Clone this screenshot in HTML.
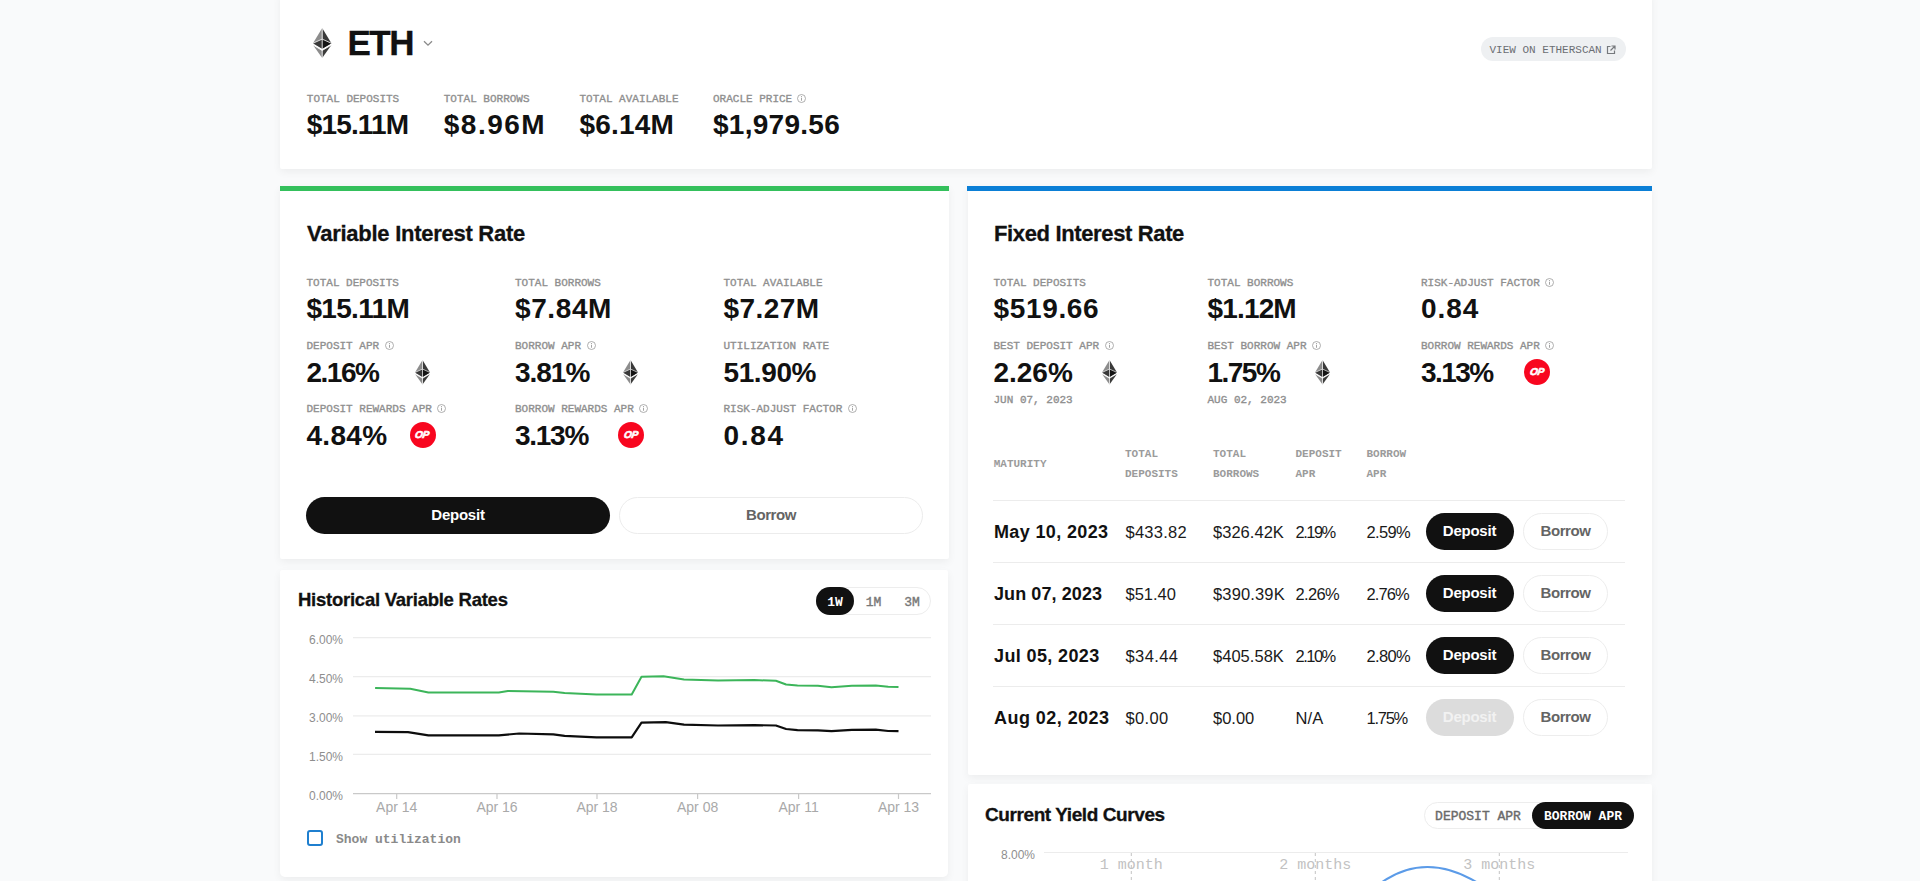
<!DOCTYPE html><html><head><meta charset="utf-8"><style>
html,body{margin:0;padding:0}
body{width:1920px;height:881px;overflow:hidden;position:relative;background:#f9fafb;font-family:'Liberation Sans',sans-serif}
.t{position:absolute;white-space:nowrap}
.lb{-webkit-text-stroke:0.3px}
.b{position:absolute;box-sizing:border-box}
.card{position:absolute;background:#fff;box-shadow:0 3px 9px rgba(0,0,0,0.055)}
.op{background:#f8061f;border-radius:50%;display:flex;align-items:center;justify-content:center}
.op span{color:#fff;font:italic bold 10px/1 'Liberation Sans',sans-serif;letter-spacing:-0.2px;-webkit-text-stroke:0.6px #fff;margin-top:0px;display:inline-block;transform:skewX(-10deg)}
</style></head><body>
<div class="card" style="left:280px;top:-8px;width:1372px;height:177px;border-radius:0 0 2px 2px"></div>
<div class="card" style="left:280px;top:186px;width:669px;height:373px;border-radius:0 0 2px 2px"></div>
<div class="b" style="left:280px;top:186px;width:669px;height:5px;background:#34c05c"></div>
<div class="card" style="left:280px;top:570px;width:668px;height:307px;border-radius:2px 2px 5px 5px"></div>
<div class="card" style="left:968px;top:186px;width:684px;height:589px;border-radius:0 0 2px 2px"></div>
<div class="b" style="left:967px;top:186px;width:685px;height:5px;background:#0b7fd6"></div>
<div class="card" style="left:968px;top:784px;width:684px;height:120px;border-radius:2px"></div>
<svg class="b" style="left:313.29px;top:28.00px;width:18.42px;height:30.00px" viewBox="0 0 784.37 1277.39">
<polygon fill="#3a3a3a" points="392.07,0 392.07,882.29 784.13,650.54"/>
<polygon fill="#8C8C8C" points="392.07,0 0,650.54 392.07,882.29"/>
<polygon fill="#3C3C3B" points="392.07,956.52 392.07,1277.38 784.37,724.89"/>
<polygon fill="#8C8C8C" points="392.07,1277.38 392.07,956.52 0,724.89"/>
<polygon fill="#141414" points="392.07,882.29 784.13,650.54 392.07,472.33"/>
<polygon fill="#393939" points="0,650.54 392.07,882.29 392.07,472.33"/>
<g stroke="#fff" stroke-width="34" fill="none"><line x1="392.07" y1="0" x2="392.07" y2="1277.39"/><polyline points="0,650.54 392.07,472.33 784.13,650.54"/><polyline points="0,724.89 392.07,956.52 784.37,724.89"/></g>
</svg>
<div class="t" id="k1" style="left:347.50px;top:25.37px;font-size:35px;line-height:35px;font-family:'Liberation Sans', sans-serif;font-weight:700;color:#111;letter-spacing:-1.5px;-webkit-text-stroke:0.3px #111;">ETH</div>
<svg class="b" style="left:423px;top:40px;width:10px;height:7px" viewBox="0 0 10 7"><polyline points="1,1.2 5,5.2 9,1.2" fill="none" stroke="#8a8a8a" stroke-width="1.3"/></svg>
<div class="t" style="left:306.80px;top:93.57px;font-size:11px;line-height:11px;font-family:'Liberation Mono', monospace;font-weight:400;color:#8f8f8f;-webkit-text-stroke:0.35px #8f8f8f;">TOTAL DEPOSITS</div>
<div class="t" id="k2" style="left:306.80px;top:111.30px;font-size:28px;line-height:28px;font-family:'Liberation Sans', sans-serif;font-weight:700;color:#111;letter-spacing:-0.867px;">$15.11M</div>
<div class="t" style="left:443.75px;top:93.57px;font-size:11px;line-height:11px;font-family:'Liberation Mono', monospace;font-weight:400;color:#8f8f8f;-webkit-text-stroke:0.35px #8f8f8f;">TOTAL BORROWS</div>
<div class="t" id="k3" style="left:443.75px;top:111.30px;font-size:28px;line-height:28px;font-family:'Liberation Sans', sans-serif;font-weight:700;color:#111;letter-spacing:1.5px;">$8.96M</div>
<div class="t" style="left:579.50px;top:93.57px;font-size:11px;line-height:11px;font-family:'Liberation Mono', monospace;font-weight:400;color:#8f8f8f;-webkit-text-stroke:0.35px #8f8f8f;">TOTAL AVAILABLE</div>
<div class="t" id="k4" style="left:579.50px;top:111.30px;font-size:28px;line-height:28px;font-family:'Liberation Sans', sans-serif;font-weight:700;color:#111;letter-spacing:0.2px;">$6.14M</div>
<div class="t" style="left:713.00px;top:93.57px;font-size:11px;line-height:11px;font-family:'Liberation Mono', monospace;font-weight:400;color:#8f8f8f;-webkit-text-stroke:0.35px #8f8f8f;">ORACLE PRICE</div>
<div class="t" id="k5" style="left:713.00px;top:111.30px;font-size:28px;line-height:28px;font-family:'Liberation Sans', sans-serif;font-weight:700;color:#111;letter-spacing:0.275px;">$1,979.56</div>
<svg class="b" style="left:797px;top:94px;width:9px;height:9px" viewBox="0 0 18 18"><circle cx="9" cy="9" r="8" fill="none" stroke="#9a9a9a" stroke-width="1.6"/><rect x="8.1" y="7.5" width="1.8" height="6" fill="#9a9a9a"/><circle cx="9" cy="5" r="1.1" fill="#9a9a9a"/></svg>
<div class="b" style="left:1481px;top:37px;width:145px;height:24px;background:#eef0f2;border-radius:12px"></div>
<div class="t" style="left:1489.50px;top:44.57px;font-size:11px;line-height:11px;font-family:'Liberation Mono', monospace;font-weight:400;color:#6b6e72;">VIEW ON ETHERSCAN</div>
<svg class="b" style="left:1606px;top:44.5px;width:10px;height:10px" viewBox="0 0 10 10"><path d="M4.5 1.5H1.5V8.5H8.5V5.5" fill="none" stroke="#76797d" stroke-width="1.2"/><path d="M5.5 1H9V4.5M9 1L4.5 5.5" fill="none" stroke="#76797d" stroke-width="1.2"/></svg>
<div class="t" id="k6" style="left:307.00px;top:223.38px;font-size:22px;line-height:22px;font-family:'Liberation Sans', sans-serif;font-weight:700;color:#111;letter-spacing:-0.262px;-webkit-text-stroke:0.3px #111;">Variable Interest Rate</div>
<div class="t" style="left:306.50px;top:277.57px;font-size:11px;line-height:11px;font-family:'Liberation Mono', monospace;font-weight:400;color:#8f8f8f;-webkit-text-stroke:0.35px #8f8f8f;">TOTAL DEPOSITS</div>
<div class="t" id="k7" style="left:306.50px;top:295.00px;font-size:28px;line-height:28px;font-family:'Liberation Sans', sans-serif;font-weight:700;color:#111;letter-spacing:-0.7px;">$15.11M</div>
<div class="t" style="left:515.00px;top:277.57px;font-size:11px;line-height:11px;font-family:'Liberation Mono', monospace;font-weight:400;color:#8f8f8f;-webkit-text-stroke:0.35px #8f8f8f;">TOTAL BORROWS</div>
<div class="t" id="k8" style="left:515.00px;top:295.00px;font-size:28px;line-height:28px;font-family:'Liberation Sans', sans-serif;font-weight:700;color:#111;letter-spacing:0.6px;">$7.84M</div>
<div class="t" style="left:723.50px;top:277.57px;font-size:11px;line-height:11px;font-family:'Liberation Mono', monospace;font-weight:400;color:#8f8f8f;-webkit-text-stroke:0.35px #8f8f8f;">TOTAL AVAILABLE</div>
<div class="t" id="k9" style="left:723.50px;top:295.00px;font-size:28px;line-height:28px;font-family:'Liberation Sans', sans-serif;font-weight:700;color:#111;letter-spacing:0.44px;">$7.27M</div>
<div class="t" style="left:306.50px;top:340.57px;font-size:11px;line-height:11px;font-family:'Liberation Mono', monospace;font-weight:400;color:#8f8f8f;-webkit-text-stroke:0.35px #8f8f8f;">DEPOSIT APR</div>
<svg class="b" style="left:384.6px;top:341px;width:9px;height:9px" viewBox="0 0 18 18"><circle cx="9" cy="9" r="8" fill="none" stroke="#9a9a9a" stroke-width="1.6"/><rect x="8.1" y="7.5" width="1.8" height="6" fill="#9a9a9a"/><circle cx="9" cy="5" r="1.1" fill="#9a9a9a"/></svg>
<div class="t" id="k10" style="left:306.50px;top:358.50px;font-size:28px;line-height:28px;font-family:'Liberation Sans', sans-serif;font-weight:700;color:#111;letter-spacing:-1.5px;">2.16%</div>
<div class="t" style="left:515.00px;top:340.57px;font-size:11px;line-height:11px;font-family:'Liberation Mono', monospace;font-weight:400;color:#8f8f8f;-webkit-text-stroke:0.35px #8f8f8f;">BORROW APR</div>
<svg class="b" style="left:586.5px;top:341px;width:9px;height:9px" viewBox="0 0 18 18"><circle cx="9" cy="9" r="8" fill="none" stroke="#9a9a9a" stroke-width="1.6"/><rect x="8.1" y="7.5" width="1.8" height="6" fill="#9a9a9a"/><circle cx="9" cy="5" r="1.1" fill="#9a9a9a"/></svg>
<div class="t" id="k11" style="left:515.00px;top:358.50px;font-size:28px;line-height:28px;font-family:'Liberation Sans', sans-serif;font-weight:700;color:#111;letter-spacing:-1.025px;">3.81%</div>
<div class="t" style="left:723.50px;top:340.57px;font-size:11px;line-height:11px;font-family:'Liberation Mono', monospace;font-weight:400;color:#8f8f8f;-webkit-text-stroke:0.35px #8f8f8f;">UTILIZATION RATE</div>
<div class="t" id="k12" style="left:723.50px;top:358.50px;font-size:28px;line-height:28px;font-family:'Liberation Sans', sans-serif;font-weight:700;color:#111;letter-spacing:-0.4px;">51.90%</div>
<div class="t" style="left:306.50px;top:403.87px;font-size:11px;line-height:11px;font-family:'Liberation Mono', monospace;font-weight:400;color:#8f8f8f;-webkit-text-stroke:0.35px #8f8f8f;">DEPOSIT REWARDS APR</div>
<svg class="b" style="left:437.4px;top:404.3px;width:9px;height:9px" viewBox="0 0 18 18"><circle cx="9" cy="9" r="8" fill="none" stroke="#9a9a9a" stroke-width="1.6"/><rect x="8.1" y="7.5" width="1.8" height="6" fill="#9a9a9a"/><circle cx="9" cy="5" r="1.1" fill="#9a9a9a"/></svg>
<div class="t" id="k13" style="left:306.50px;top:421.50px;font-size:28px;line-height:28px;font-family:'Liberation Sans', sans-serif;font-weight:700;color:#111;letter-spacing:0.3px;">4.84%</div>
<div class="t" style="left:515.00px;top:403.87px;font-size:11px;line-height:11px;font-family:'Liberation Mono', monospace;font-weight:400;color:#8f8f8f;-webkit-text-stroke:0.35px #8f8f8f;">BORROW REWARDS APR</div>
<svg class="b" style="left:639.3px;top:404.3px;width:9px;height:9px" viewBox="0 0 18 18"><circle cx="9" cy="9" r="8" fill="none" stroke="#9a9a9a" stroke-width="1.6"/><rect x="8.1" y="7.5" width="1.8" height="6" fill="#9a9a9a"/><circle cx="9" cy="5" r="1.1" fill="#9a9a9a"/></svg>
<div class="t" id="k14" style="left:515.00px;top:421.50px;font-size:28px;line-height:28px;font-family:'Liberation Sans', sans-serif;font-weight:700;color:#111;letter-spacing:-1.275px;">3.13%</div>
<div class="t" style="left:723.50px;top:403.87px;font-size:11px;line-height:11px;font-family:'Liberation Mono', monospace;font-weight:400;color:#8f8f8f;-webkit-text-stroke:0.35px #8f8f8f;">RISK-ADJUST FACTOR</div>
<svg class="b" style="left:847.8px;top:404.3px;width:9px;height:9px" viewBox="0 0 18 18"><circle cx="9" cy="9" r="8" fill="none" stroke="#9a9a9a" stroke-width="1.6"/><rect x="8.1" y="7.5" width="1.8" height="6" fill="#9a9a9a"/><circle cx="9" cy="5" r="1.1" fill="#9a9a9a"/></svg>
<div class="t" id="k15" style="left:723.50px;top:421.50px;font-size:28px;line-height:28px;font-family:'Liberation Sans', sans-serif;font-weight:700;color:#111;letter-spacing:1.7px;">0.84</div>
<svg class="b" style="left:414.98px;top:360.25px;width:15.04px;height:24.50px" viewBox="0 0 784.37 1277.39">
<polygon fill="#3a3a3a" points="392.07,0 392.07,882.29 784.13,650.54"/>
<polygon fill="#8C8C8C" points="392.07,0 0,650.54 392.07,882.29"/>
<polygon fill="#3C3C3B" points="392.07,956.52 392.07,1277.38 784.37,724.89"/>
<polygon fill="#8C8C8C" points="392.07,1277.38 392.07,956.52 0,724.89"/>
<polygon fill="#141414" points="392.07,882.29 784.13,650.54 392.07,472.33"/>
<polygon fill="#393939" points="0,650.54 392.07,882.29 392.07,472.33"/>
<g stroke="#fff" stroke-width="34" fill="none"><line x1="392.07" y1="0" x2="392.07" y2="1277.39"/><polyline points="0,650.54 392.07,472.33 784.13,650.54"/><polyline points="0,724.89 392.07,956.52 784.37,724.89"/></g>
</svg>
<svg class="b" style="left:623.48px;top:360.25px;width:15.04px;height:24.50px" viewBox="0 0 784.37 1277.39">
<polygon fill="#3a3a3a" points="392.07,0 392.07,882.29 784.13,650.54"/>
<polygon fill="#8C8C8C" points="392.07,0 0,650.54 392.07,882.29"/>
<polygon fill="#3C3C3B" points="392.07,956.52 392.07,1277.38 784.37,724.89"/>
<polygon fill="#8C8C8C" points="392.07,1277.38 392.07,956.52 0,724.89"/>
<polygon fill="#141414" points="392.07,882.29 784.13,650.54 392.07,472.33"/>
<polygon fill="#393939" points="0,650.54 392.07,882.29 392.07,472.33"/>
<g stroke="#fff" stroke-width="34" fill="none"><line x1="392.07" y1="0" x2="392.07" y2="1277.39"/><polyline points="0,650.54 392.07,472.33 784.13,650.54"/><polyline points="0,724.89 392.07,956.52 784.37,724.89"/></g>
</svg>
<div class="b op" style="left:409.50px;top:422.20px;width:26px;height:26px;"><span>OP</span></div>
<div class="b op" style="left:618.00px;top:422.20px;width:26px;height:26px;"><span>OP</span></div>
<div class="b" style="left:306px;top:497px;width:304px;height:37px;background:#111;border-radius:19px"></div>
<div class="t" style="left:458.00px;top:507.30px;font-size:15px;line-height:15px;font-family:'Liberation Sans', sans-serif;font-weight:700;color:#fff;letter-spacing:-0.25px;transform:translateX(-50%);">Deposit</div>
<div class="b" style="left:619px;top:497px;width:304px;height:37px;background:#fff;border:1px solid #ececec;border-radius:19px"></div>
<div class="t" style="left:771.00px;top:507.30px;font-size:15px;line-height:15px;font-family:'Liberation Sans', sans-serif;font-weight:700;color:#646464;letter-spacing:-0.45px;transform:translateX(-50%);">Borrow</div>
<div class="t" id="k16" style="left:298.00px;top:591.34px;font-size:18.5px;line-height:18.5px;font-family:'Liberation Sans', sans-serif;font-weight:700;color:#111;letter-spacing:-0.25px;-webkit-text-stroke:0.3px #111;">Historical Variable Rates</div>
<div class="b" style="left:815.5px;top:587px;width:115.5px;height:27.5px;background:#fff;border:1px solid #ededed;border-radius:14px"></div>
<div class="b" style="left:815.5px;top:587px;width:38.5px;height:27.5px;background:#111;border-radius:14px"></div>
<div class="t" style="left:835.00px;top:595.54px;font-size:13px;line-height:13px;font-family:'Liberation Mono', monospace;font-weight:700;color:#fff;transform:translateX(-50%);">1W</div>
<div class="t" style="left:873.50px;top:595.54px;font-size:13px;line-height:13px;font-family:'Liberation Mono', monospace;font-weight:400;color:#787878;transform:translateX(-50%);-webkit-text-stroke:0.4px #787878;">1M</div>
<div class="t" style="left:912.00px;top:595.54px;font-size:13px;line-height:13px;font-family:'Liberation Mono', monospace;font-weight:400;color:#787878;transform:translateX(-50%);-webkit-text-stroke:0.4px #787878;">3M</div>
<svg class="b" style="left:0;top:0;width:1920px;height:881px;overflow:visible" viewBox="0 0 1920 881"><line x1="353" y1="637.7" x2="931" y2="637.7" stroke="#ececec" stroke-width="1.2"/><line x1="353" y1="676.7" x2="931" y2="676.7" stroke="#ececec" stroke-width="1.2"/><line x1="353" y1="715.8" x2="931" y2="715.8" stroke="#ececec" stroke-width="1.2"/><line x1="353" y1="754.4" x2="931" y2="754.4" stroke="#ececec" stroke-width="1.2"/><line x1="353" y1="793.6" x2="931" y2="793.6" stroke="#c9c9c9" stroke-width="1.3"/><line x1="396.7" y1="793.6" x2="396.7" y2="799" stroke="#c9c9c9" stroke-width="1.2"/><line x1="497" y1="793.6" x2="497" y2="799" stroke="#c9c9c9" stroke-width="1.2"/><line x1="597" y1="793.6" x2="597" y2="799" stroke="#c9c9c9" stroke-width="1.2"/><line x1="697.6" y1="793.6" x2="697.6" y2="799" stroke="#c9c9c9" stroke-width="1.2"/><line x1="798.6" y1="793.6" x2="798.6" y2="799" stroke="#c9c9c9" stroke-width="1.2"/><line x1="898.5" y1="793.6" x2="898.5" y2="799" stroke="#c9c9c9" stroke-width="1.2"/><polyline points="375.1,688.1 410.3,688.8 428.4,692.6 498.8,692.6 507.9,691.0 553.3,691.7 564.6,693.1 596.4,694.4 631.7,694.4 641.5,676.7 663.5,676.3 684.0,679.5 718.0,680.6 754.3,680.1 775.9,680.8 786.1,684.5 797.5,685.6 817.9,685.8 831.5,687.2 851.9,685.8 875.8,685.4 888.2,686.7 898.5,687.0" fill="none" stroke="#3cb55a" stroke-width="2" stroke-linejoin="round"/><polyline points="375.0,731.9 408.0,732.1 428.4,735.3 498.8,735.3 519.2,733.5 553.3,734.4 564.6,735.8 596.4,737.3 631.7,737.3 641.5,722.6 665.8,722.1 684.0,724.6 718.0,725.5 754.3,725.1 775.9,725.5 786.1,729.0 797.5,730.1 817.9,730.3 831.5,731.2 851.9,729.8 875.8,729.6 888.2,731.0 898.5,731.2" fill="none" stroke="#0d0d0d" stroke-width="2.2" stroke-linejoin="round"/></svg>
<div class="t" style="left:343.00px;top:633.84px;font-size:12px;line-height:12px;font-family:'Liberation Sans', sans-serif;font-weight:400;color:#8e8e8e;transform:translateX(-100%);">6.00%</div>
<div class="t" style="left:343.00px;top:672.84px;font-size:12px;line-height:12px;font-family:'Liberation Sans', sans-serif;font-weight:400;color:#8e8e8e;transform:translateX(-100%);">4.50%</div>
<div class="t" style="left:343.00px;top:711.94px;font-size:12px;line-height:12px;font-family:'Liberation Sans', sans-serif;font-weight:400;color:#8e8e8e;transform:translateX(-100%);">3.00%</div>
<div class="t" style="left:343.00px;top:750.54px;font-size:12px;line-height:12px;font-family:'Liberation Sans', sans-serif;font-weight:400;color:#8e8e8e;transform:translateX(-100%);">1.50%</div>
<div class="t" style="left:343.00px;top:789.74px;font-size:12px;line-height:12px;font-family:'Liberation Sans', sans-serif;font-weight:400;color:#8e8e8e;transform:translateX(-100%);">0.00%</div>
<div class="t" style="left:396.70px;top:800.15px;font-size:14px;line-height:14px;font-family:'Liberation Sans', sans-serif;font-weight:400;color:#a9a9a9;transform:translateX(-50%);">Apr 14</div>
<div class="t" style="left:497.00px;top:800.15px;font-size:14px;line-height:14px;font-family:'Liberation Sans', sans-serif;font-weight:400;color:#a9a9a9;transform:translateX(-50%);">Apr 16</div>
<div class="t" style="left:597.00px;top:800.15px;font-size:14px;line-height:14px;font-family:'Liberation Sans', sans-serif;font-weight:400;color:#a9a9a9;transform:translateX(-50%);">Apr 18</div>
<div class="t" style="left:697.60px;top:800.15px;font-size:14px;line-height:14px;font-family:'Liberation Sans', sans-serif;font-weight:400;color:#a9a9a9;transform:translateX(-50%);">Apr 08</div>
<div class="t" style="left:798.60px;top:800.15px;font-size:14px;line-height:14px;font-family:'Liberation Sans', sans-serif;font-weight:400;color:#a9a9a9;transform:translateX(-50%);">Apr 11</div>
<div class="t" style="left:898.50px;top:800.15px;font-size:14px;line-height:14px;font-family:'Liberation Sans', sans-serif;font-weight:400;color:#a9a9a9;transform:translateX(-50%);">Apr 13</div>
<div class="b" style="left:307px;top:830px;width:16px;height:16px;border:2px solid #1f7fcf;border-radius:3px;background:#fff"></div>
<div class="t" style="left:336.00px;top:833.04px;font-size:13px;line-height:13px;font-family:'Liberation Mono', monospace;font-weight:700;color:#8a8a8a;">Show utilization</div>
<div class="t" id="k17" style="left:994.00px;top:222.88px;font-size:22px;line-height:22px;font-family:'Liberation Sans', sans-serif;font-weight:700;color:#111;letter-spacing:-0.361px;-webkit-text-stroke:0.3px #111;">Fixed Interest Rate</div>
<div class="t" style="left:993.50px;top:277.57px;font-size:11px;line-height:11px;font-family:'Liberation Mono', monospace;font-weight:400;color:#8f8f8f;-webkit-text-stroke:0.35px #8f8f8f;">TOTAL DEPOSITS</div>
<div class="t" id="k18" style="left:993.50px;top:295.00px;font-size:28px;line-height:28px;font-family:'Liberation Sans', sans-serif;font-weight:700;color:#111;letter-spacing:0.65px;">$519.66</div>
<div class="t" style="left:1207.50px;top:277.57px;font-size:11px;line-height:11px;font-family:'Liberation Mono', monospace;font-weight:400;color:#8f8f8f;-webkit-text-stroke:0.35px #8f8f8f;">TOTAL BORROWS</div>
<div class="t" id="k19" style="left:1207.50px;top:295.00px;font-size:28px;line-height:28px;font-family:'Liberation Sans', sans-serif;font-weight:700;color:#111;letter-spacing:-0.84px;">$1.12M</div>
<div class="t" style="left:1421.00px;top:277.57px;font-size:11px;line-height:11px;font-family:'Liberation Mono', monospace;font-weight:400;color:#8f8f8f;-webkit-text-stroke:0.35px #8f8f8f;">RISK-ADJUST FACTOR</div>
<svg class="b" style="left:1545.3px;top:278px;width:9px;height:9px" viewBox="0 0 18 18"><circle cx="9" cy="9" r="8" fill="none" stroke="#9a9a9a" stroke-width="1.6"/><rect x="8.1" y="7.5" width="1.8" height="6" fill="#9a9a9a"/><circle cx="9" cy="5" r="1.1" fill="#9a9a9a"/></svg>
<div class="t" id="k20" style="left:1421.00px;top:295.00px;font-size:28px;line-height:28px;font-family:'Liberation Sans', sans-serif;font-weight:700;color:#111;letter-spacing:0.934px;">0.84</div>
<div class="t" style="left:993.50px;top:340.57px;font-size:11px;line-height:11px;font-family:'Liberation Mono', monospace;font-weight:400;color:#8f8f8f;-webkit-text-stroke:0.35px #8f8f8f;">BEST DEPOSIT APR</div>
<svg class="b" style="left:1104.6px;top:341px;width:9px;height:9px" viewBox="0 0 18 18"><circle cx="9" cy="9" r="8" fill="none" stroke="#9a9a9a" stroke-width="1.6"/><rect x="8.1" y="7.5" width="1.8" height="6" fill="#9a9a9a"/><circle cx="9" cy="5" r="1.1" fill="#9a9a9a"/></svg>
<div class="t" id="k21" style="left:993.50px;top:358.50px;font-size:28px;line-height:28px;font-family:'Liberation Sans', sans-serif;font-weight:700;color:#111;letter-spacing:-0.025px;">2.26%</div>
<div class="t" style="left:1207.50px;top:340.57px;font-size:11px;line-height:11px;font-family:'Liberation Mono', monospace;font-weight:400;color:#8f8f8f;-webkit-text-stroke:0.35px #8f8f8f;">BEST BORROW APR</div>
<svg class="b" style="left:1312.0px;top:341px;width:9px;height:9px" viewBox="0 0 18 18"><circle cx="9" cy="9" r="8" fill="none" stroke="#9a9a9a" stroke-width="1.6"/><rect x="8.1" y="7.5" width="1.8" height="6" fill="#9a9a9a"/><circle cx="9" cy="5" r="1.1" fill="#9a9a9a"/></svg>
<div class="t" id="k22" style="left:1207.50px;top:358.50px;font-size:28px;line-height:28px;font-family:'Liberation Sans', sans-serif;font-weight:700;color:#111;letter-spacing:-1.525px;">1.75%</div>
<div class="t" style="left:1421.00px;top:340.57px;font-size:11px;line-height:11px;font-family:'Liberation Mono', monospace;font-weight:400;color:#8f8f8f;-webkit-text-stroke:0.35px #8f8f8f;">BORROW REWARDS APR</div>
<svg class="b" style="left:1545.3px;top:341px;width:9px;height:9px" viewBox="0 0 18 18"><circle cx="9" cy="9" r="8" fill="none" stroke="#9a9a9a" stroke-width="1.6"/><rect x="8.1" y="7.5" width="1.8" height="6" fill="#9a9a9a"/><circle cx="9" cy="5" r="1.1" fill="#9a9a9a"/></svg>
<div class="t" id="k23" style="left:1421.00px;top:358.50px;font-size:28px;line-height:28px;font-family:'Liberation Sans', sans-serif;font-weight:700;color:#111;letter-spacing:-1.55px;">3.13%</div>
<div class="t" style="left:993.50px;top:395.07px;font-size:11px;line-height:11px;font-family:'Liberation Mono', monospace;font-weight:400;color:#8f8f8f;-webkit-text-stroke:0.35px #8f8f8f;">JUN 07, 2023</div>
<div class="t" style="left:1207.50px;top:395.07px;font-size:11px;line-height:11px;font-family:'Liberation Mono', monospace;font-weight:400;color:#8f8f8f;-webkit-text-stroke:0.35px #8f8f8f;">AUG 02, 2023</div>
<svg class="b" style="left:1101.98px;top:360.25px;width:15.04px;height:24.50px" viewBox="0 0 784.37 1277.39">
<polygon fill="#3a3a3a" points="392.07,0 392.07,882.29 784.13,650.54"/>
<polygon fill="#8C8C8C" points="392.07,0 0,650.54 392.07,882.29"/>
<polygon fill="#3C3C3B" points="392.07,956.52 392.07,1277.38 784.37,724.89"/>
<polygon fill="#8C8C8C" points="392.07,1277.38 392.07,956.52 0,724.89"/>
<polygon fill="#141414" points="392.07,882.29 784.13,650.54 392.07,472.33"/>
<polygon fill="#393939" points="0,650.54 392.07,882.29 392.07,472.33"/>
<g stroke="#fff" stroke-width="34" fill="none"><line x1="392.07" y1="0" x2="392.07" y2="1277.39"/><polyline points="0,650.54 392.07,472.33 784.13,650.54"/><polyline points="0,724.89 392.07,956.52 784.37,724.89"/></g>
</svg>
<svg class="b" style="left:1315.48px;top:360.25px;width:15.04px;height:24.50px" viewBox="0 0 784.37 1277.39">
<polygon fill="#3a3a3a" points="392.07,0 392.07,882.29 784.13,650.54"/>
<polygon fill="#8C8C8C" points="392.07,0 0,650.54 392.07,882.29"/>
<polygon fill="#3C3C3B" points="392.07,956.52 392.07,1277.38 784.37,724.89"/>
<polygon fill="#8C8C8C" points="392.07,1277.38 392.07,956.52 0,724.89"/>
<polygon fill="#141414" points="392.07,882.29 784.13,650.54 392.07,472.33"/>
<polygon fill="#393939" points="0,650.54 392.07,882.29 392.07,472.33"/>
<g stroke="#fff" stroke-width="34" fill="none"><line x1="392.07" y1="0" x2="392.07" y2="1277.39"/><polyline points="0,650.54 392.07,472.33 784.13,650.54"/><polyline points="0,724.89 392.07,956.52 784.37,724.89"/></g>
</svg>
<div class="b op" style="left:1523.70px;top:359.40px;width:26px;height:26px;"><span>OP</span></div>
<div class="t" style="left:993.70px;top:459.07px;font-size:11px;line-height:11px;font-family:'Liberation Mono', monospace;font-weight:700;color:#9b9b9b;">MATURITY</div>
<div class="t" style="left:1125.00px;top:449.07px;font-size:11px;line-height:11px;font-family:'Liberation Mono', monospace;font-weight:700;color:#9b9b9b;">TOTAL</div>
<div class="t" style="left:1125.00px;top:468.57px;font-size:11px;line-height:11px;font-family:'Liberation Mono', monospace;font-weight:700;color:#9b9b9b;">DEPOSITS</div>
<div class="t" style="left:1213.00px;top:449.07px;font-size:11px;line-height:11px;font-family:'Liberation Mono', monospace;font-weight:700;color:#9b9b9b;">TOTAL</div>
<div class="t" style="left:1213.00px;top:468.57px;font-size:11px;line-height:11px;font-family:'Liberation Mono', monospace;font-weight:700;color:#9b9b9b;">BORROWS</div>
<div class="t" style="left:1295.50px;top:449.07px;font-size:11px;line-height:11px;font-family:'Liberation Mono', monospace;font-weight:700;color:#9b9b9b;">DEPOSIT</div>
<div class="t" style="left:1295.50px;top:468.57px;font-size:11px;line-height:11px;font-family:'Liberation Mono', monospace;font-weight:700;color:#9b9b9b;">APR</div>
<div class="t" style="left:1366.50px;top:449.07px;font-size:11px;line-height:11px;font-family:'Liberation Mono', monospace;font-weight:700;color:#9b9b9b;">BORROW</div>
<div class="t" style="left:1366.50px;top:468.57px;font-size:11px;line-height:11px;font-family:'Liberation Mono', monospace;font-weight:700;color:#9b9b9b;">APR</div>
<div class="b" style="left:993px;top:499.8px;width:632px;height:1px;background:#ececec"></div>
<div class="b" style="left:993px;top:561.8px;width:632px;height:1px;background:#ececec"></div>
<div class="b" style="left:993px;top:624.0px;width:632px;height:1px;background:#ececec"></div>
<div class="b" style="left:993px;top:686.0px;width:632px;height:1px;background:#ececec"></div>
<div class="t" id="k24" style="left:994.00px;top:522.76px;font-size:18px;line-height:18px;font-family:'Liberation Sans', sans-serif;font-weight:700;color:#111;letter-spacing:0.364px;">May 10, 2023</div>
<div class="t" id="k25" style="left:1125.50px;top:524.03px;font-size:16.5px;line-height:16.5px;font-family:'Liberation Sans', sans-serif;font-weight:400;color:#1a1a1a;letter-spacing:0.25px;">$433.82</div>
<div class="t" id="k26" style="left:1213.00px;top:524.03px;font-size:16.5px;line-height:16.5px;font-family:'Liberation Sans', sans-serif;font-weight:400;color:#1a1a1a;letter-spacing:0.028px;">$326.42K</div>
<div class="t" id="k27" style="left:1295.50px;top:524.03px;font-size:16.5px;line-height:16.5px;font-family:'Liberation Sans', sans-serif;font-weight:400;color:#1a1a1a;letter-spacing:-1.5px;">2.19%</div>
<div class="t" id="k28" style="left:1366.50px;top:524.03px;font-size:16.5px;line-height:16.5px;font-family:'Liberation Sans', sans-serif;font-weight:400;color:#1a1a1a;letter-spacing:-0.625px;">2.59%</div>
<div class="b" style="left:1425.5px;top:513.2px;width:88px;height:37px;background:#111;border-radius:19px"></div>
<div class="t" style="left:1469.50px;top:523.30px;font-size:15px;line-height:15px;font-family:'Liberation Sans', sans-serif;font-weight:700;color:#fff;letter-spacing:-0.25px;transform:translateX(-50%);">Deposit</div>
<div class="b" style="left:1523px;top:513.2px;width:85px;height:37px;background:#fff;border:1px solid #ededed;border-radius:19px"></div>
<div class="t" style="left:1565.50px;top:523.30px;font-size:15px;line-height:15px;font-family:'Liberation Sans', sans-serif;font-weight:700;color:#646464;letter-spacing:-0.45px;transform:translateX(-50%);">Borrow</div>
<div class="t" id="k29" style="left:994.00px;top:584.76px;font-size:18px;line-height:18px;font-family:'Liberation Sans', sans-serif;font-weight:700;color:#111;letter-spacing:0.091px;">Jun 07, 2023</div>
<div class="t" id="k30" style="left:1125.50px;top:586.03px;font-size:16.5px;line-height:16.5px;font-family:'Liberation Sans', sans-serif;font-weight:400;color:#1a1a1a;letter-spacing:0.0px;">$51.40</div>
<div class="t" id="k31" style="left:1213.00px;top:586.03px;font-size:16.5px;line-height:16.5px;font-family:'Liberation Sans', sans-serif;font-weight:400;color:#1a1a1a;letter-spacing:0.143px;">$390.39K</div>
<div class="t" id="k32" style="left:1295.50px;top:586.03px;font-size:16.5px;line-height:16.5px;font-family:'Liberation Sans', sans-serif;font-weight:400;color:#1a1a1a;letter-spacing:-0.625px;">2.26%</div>
<div class="t" id="k33" style="left:1366.50px;top:586.03px;font-size:16.5px;line-height:16.5px;font-family:'Liberation Sans', sans-serif;font-weight:400;color:#1a1a1a;letter-spacing:-0.875px;">2.76%</div>
<div class="b" style="left:1425.5px;top:575.2px;width:88px;height:37px;background:#111;border-radius:19px"></div>
<div class="t" style="left:1469.50px;top:585.30px;font-size:15px;line-height:15px;font-family:'Liberation Sans', sans-serif;font-weight:700;color:#fff;letter-spacing:-0.25px;transform:translateX(-50%);">Deposit</div>
<div class="b" style="left:1523px;top:575.2px;width:85px;height:37px;background:#fff;border:1px solid #ededed;border-radius:19px"></div>
<div class="t" style="left:1565.50px;top:585.30px;font-size:15px;line-height:15px;font-family:'Liberation Sans', sans-serif;font-weight:700;color:#646464;letter-spacing:-0.45px;transform:translateX(-50%);">Borrow</div>
<div class="t" id="k34" style="left:994.00px;top:646.76px;font-size:18px;line-height:18px;font-family:'Liberation Sans', sans-serif;font-weight:700;color:#111;letter-spacing:0.381px;">Jul 05, 2023</div>
<div class="t" id="k35" style="left:1125.50px;top:648.03px;font-size:16.5px;line-height:16.5px;font-family:'Liberation Sans', sans-serif;font-weight:400;color:#1a1a1a;letter-spacing:0.4px;">$34.44</div>
<div class="t" id="k36" style="left:1213.00px;top:648.03px;font-size:16.5px;line-height:16.5px;font-family:'Liberation Sans', sans-serif;font-weight:400;color:#1a1a1a;letter-spacing:0.028px;">$405.58K</div>
<div class="t" id="k37" style="left:1295.50px;top:648.03px;font-size:16.5px;line-height:16.5px;font-family:'Liberation Sans', sans-serif;font-weight:400;color:#1a1a1a;letter-spacing:-1.5px;">2.10%</div>
<div class="t" id="k38" style="left:1366.50px;top:648.03px;font-size:16.5px;line-height:16.5px;font-family:'Liberation Sans', sans-serif;font-weight:400;color:#1a1a1a;letter-spacing:-0.625px;">2.80%</div>
<div class="b" style="left:1425.5px;top:637.2px;width:88px;height:37px;background:#111;border-radius:19px"></div>
<div class="t" style="left:1469.50px;top:647.30px;font-size:15px;line-height:15px;font-family:'Liberation Sans', sans-serif;font-weight:700;color:#fff;letter-spacing:-0.25px;transform:translateX(-50%);">Deposit</div>
<div class="b" style="left:1523px;top:637.2px;width:85px;height:37px;background:#fff;border:1px solid #ededed;border-radius:19px"></div>
<div class="t" style="left:1565.50px;top:647.30px;font-size:15px;line-height:15px;font-family:'Liberation Sans', sans-serif;font-weight:700;color:#646464;letter-spacing:-0.45px;transform:translateX(-50%);">Borrow</div>
<div class="t" id="k39" style="left:994.00px;top:708.76px;font-size:18px;line-height:18px;font-family:'Liberation Sans', sans-serif;font-weight:700;color:#111;letter-spacing:0.455px;">Aug 02, 2023</div>
<div class="t" id="k40" style="left:1125.50px;top:710.03px;font-size:16.5px;line-height:16.5px;font-family:'Liberation Sans', sans-serif;font-weight:400;color:#1a1a1a;letter-spacing:0.375px;">$0.00</div>
<div class="t" id="k41" style="left:1213.00px;top:710.03px;font-size:16.5px;line-height:16.5px;font-family:'Liberation Sans', sans-serif;font-weight:400;color:#1a1a1a;letter-spacing:0.0px;">$0.00</div>
<div class="t" id="k42" style="left:1295.50px;top:710.03px;font-size:16.5px;line-height:16.5px;font-family:'Liberation Sans', sans-serif;font-weight:400;color:#1a1a1a;letter-spacing:0.1px;">N/A</div>
<div class="t" id="k43" style="left:1366.50px;top:710.03px;font-size:16.5px;line-height:16.5px;font-family:'Liberation Sans', sans-serif;font-weight:400;color:#1a1a1a;letter-spacing:-1.25px;">1.75%</div>
<div class="b" style="left:1425.5px;top:699.2px;width:88px;height:37px;background:#dcdcdc;border-radius:19px"></div>
<div class="t" style="left:1469.50px;top:709.30px;font-size:15px;line-height:15px;font-family:'Liberation Sans', sans-serif;font-weight:700;color:#f2f2f2;letter-spacing:-0.25px;transform:translateX(-50%);">Deposit</div>
<div class="b" style="left:1523px;top:699.2px;width:85px;height:37px;background:#fff;border:1px solid #ededed;border-radius:19px"></div>
<div class="t" style="left:1565.50px;top:709.30px;font-size:15px;line-height:15px;font-family:'Liberation Sans', sans-serif;font-weight:700;color:#646464;letter-spacing:-0.45px;transform:translateX(-50%);">Borrow</div>
<div class="t" id="k44" style="left:985.00px;top:805.42px;font-size:19px;line-height:19px;font-family:'Liberation Sans', sans-serif;font-weight:700;color:#111;letter-spacing:-0.411px;-webkit-text-stroke:0.3px #111;">Current Yield Curves</div>
<div class="b" style="left:1423.5px;top:802px;width:210px;height:27px;background:#fff;border:1px solid #ededed;border-radius:14px"></div>
<div class="b" style="left:1532px;top:802px;width:101.5px;height:27px;background:#111;border-radius:14px"></div>
<div class="t" style="left:1478.00px;top:810.04px;font-size:13px;line-height:13px;font-family:'Liberation Mono', monospace;font-weight:400;color:#6a6a6a;transform:translateX(-50%);-webkit-text-stroke:0.4px #6a6a6a;">DEPOSIT APR</div>
<div class="t" style="left:1583.00px;top:810.04px;font-size:13px;line-height:13px;font-family:'Liberation Mono', monospace;font-weight:700;color:#fff;transform:translateX(-50%);">BORROW APR</div>
<div class="t" style="left:1035.00px;top:848.84px;font-size:12px;line-height:12px;font-family:'Liberation Sans', sans-serif;font-weight:400;color:#8e8e8e;transform:translateX(-100%);">8.00%</div>
<svg class="b" style="left:0;top:0;width:1920px;height:881px" viewBox="0 0 1920 881"><line x1="1044" y1="852.5" x2="1628" y2="852.5" stroke="#ececec" stroke-width="1.2"/><line x1="1131.3" y1="853" x2="1131.3" y2="881" stroke="#c4c4c4" stroke-width="1" stroke-dasharray="3,3"/><line x1="1315.3" y1="853" x2="1315.3" y2="881" stroke="#c4c4c4" stroke-width="1" stroke-dasharray="3,3"/><line x1="1499.3" y1="853" x2="1499.3" y2="881" stroke="#c4c4c4" stroke-width="1" stroke-dasharray="3,3"/><path d="M1378 885 Q1424 850 1478 883" fill="none" stroke="#5b9be8" stroke-width="2"/></svg>
<div class="t" style="left:1131.30px;top:857.51px;font-size:15px;line-height:15px;font-family:'Liberation Mono', monospace;font-weight:400;color:#c2c2c2;transform:translateX(-50%);">1 month</div>
<div class="t" style="left:1315.30px;top:857.51px;font-size:15px;line-height:15px;font-family:'Liberation Mono', monospace;font-weight:400;color:#c2c2c2;transform:translateX(-50%);">2 months</div>
<div class="t" style="left:1499.30px;top:857.51px;font-size:15px;line-height:15px;font-family:'Liberation Mono', monospace;font-weight:400;color:#c2c2c2;transform:translateX(-50%);">3 months</div>
</body></html>
